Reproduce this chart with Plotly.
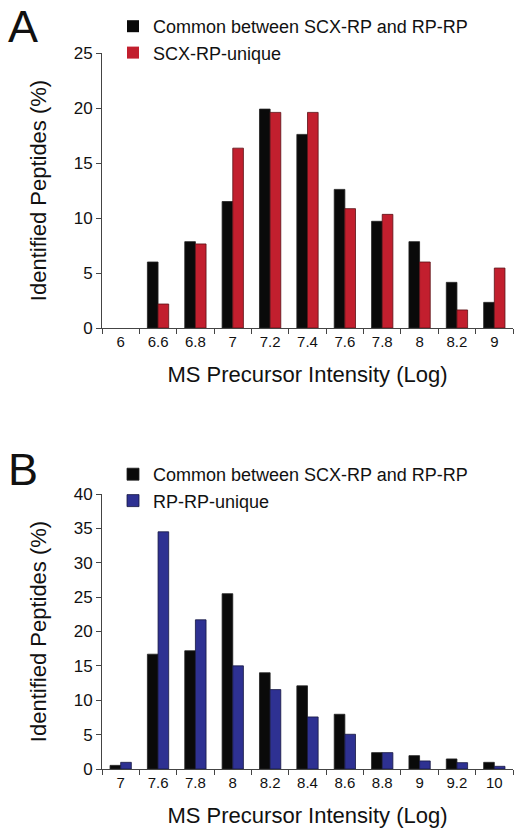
import plotly.graph_objects as go

# Panel A data
cats_a = ["6", "6.6", "6.8", "7", "7.2", "7.4", "7.6", "7.8", "8", "8.2", "9"]
common_a = [0, 6.0, 7.85, 11.5, 19.9, 17.6, 12.6, 9.7, 7.85, 4.15, 2.33]
scx_unique = [0, 2.18, 7.64, 16.35, 19.6, 19.6, 10.85, 10.33, 6.0, 1.64, 5.45]

# Panel B data
cats_b = ["7", "7.6", "7.8", "8", "8.2", "8.4", "8.6", "8.8", "9", "9.2", "10"]
common_b = [0.53, 16.7, 17.2, 25.5, 14.0, 12.1, 7.96, 2.38, 1.94, 1.46, 0.97]
rp_unique = [0.97, 34.5, 21.7, 15.0, 11.55, 7.57, 5.05, 2.38, 1.17, 0.92, 0.39]

W, H = 522, 840
FONT = "Liberation Sans, Arial, sans-serif"
BLACK = "#0a0a0a"
RED = "#c21f2e"
BLUE = "#2e3192"


def outline(vals, color):
    return dict(color=color, width=[0 if v == 0 else 0.8 for v in vals])


fig = go.Figure()
fig.add_trace(go.Bar(x=cats_a, y=common_a, name="Common between SCX-RP and RP-RP",
                     marker=dict(color=BLACK, line=outline(common_a, "#222")),
                     xaxis="x", yaxis="y", legend="legend"))
fig.add_trace(go.Bar(x=cats_a, y=scx_unique, name="SCX-RP-unique",
                     marker=dict(color=RED, line=outline(scx_unique, "#5a1015")),
                     xaxis="x", yaxis="y", legend="legend"))
fig.add_trace(go.Bar(x=cats_b, y=common_b, name="Common between SCX-RP and RP-RP",
                     marker=dict(color=BLACK, line=outline(common_b, "#222")),
                     xaxis="x2", yaxis="y2", legend="legend2"))
fig.add_trace(go.Bar(x=cats_b, y=rp_unique, name="RP-RP-unique",
                     marker=dict(color=BLUE, line=outline(rp_unique, "#151640")),
                     xaxis="x2", yaxis="y2", legend="legend2"))

xdom = [102 / W, 513 / W]
ydomA = [1 - 328 / H, 1 - 53 / H]
ydomB = [1 - 769 / H, 1 - 494 / H]

xcommon = dict(type="category", showline=True, linecolor="#444", linewidth=1,
               ticks="outside", tickson="boundaries", ticklen=5, tickcolor="#444",
               showgrid=False, zeroline=False, range=[-0.5, 10.5], automargin=False,
               tickfont=dict(size=15, color="#111", family=FONT),
               title=dict(text="MS Precursor Intensity (Log)",
                          font=dict(size=22, color="#111", family=FONT), standoff=17))
ycommon = dict(showline=True, linecolor="#444", linewidth=1, ticks="outside",
               ticklen=5, tickcolor="#444", showgrid=False, zeroline=False,
               automargin=False,
               tickfont=dict(size=17, color="#111", family=FONT),
               title=dict(text="Identified Peptides (%)",
                          font=dict(size=22, color="#111", family=FONT), standoff=20))

fig.update_layout(
    width=W, height=H,
    margin=dict(l=0, r=0, t=0, b=0, pad=0, autoexpand=False),
    paper_bgcolor="white", plot_bgcolor="white",
    barmode="group", bargap=0.43, bargroupgap=0,
    font=dict(family=FONT, color="#111"),
    xaxis=dict(domain=xdom, anchor="y", **xcommon),
    yaxis=dict(domain=ydomA, anchor="x", range=[0, 25], dtick=5, **ycommon),
    xaxis2=dict(domain=xdom, anchor="y2", **xcommon),
    yaxis2=dict(domain=ydomB, anchor="x2", range=[0, 40], dtick=5, **ycommon),
    legend=dict(x=113 / W, y=1 - 8 / H, xanchor="left", yanchor="top",
                bgcolor="rgba(0,0,0,0)", font=dict(size=18, family=FONT, color="#111"),
                itemclick=False, tracegroupgap=0),
    legend2=dict(x=113 / W, y=1 - 456 / H, xanchor="left", yanchor="top",
                 bgcolor="rgba(0,0,0,0)", font=dict(size=18, family=FONT, color="#111"),
                 itemclick=False, tracegroupgap=0),
    showlegend=True,
    annotations=[
        dict(text="A", x=6 / W, y=1 - 26 / H, xref="paper", yref="paper",
             xanchor="left", yanchor="middle", showarrow=False,
             font=dict(size=45, family=FONT, color="#111")),
        dict(text="B", x=6 / W, y=1 - 469 / H, xref="paper", yref="paper",
             xanchor="left", yanchor="middle", showarrow=False,
             font=dict(size=45, family=FONT, color="#111")),
    ],
)

fig.write_html("out.html", config={"displayModeBar": False},
               post_script="document.body.style.margin='0';")
